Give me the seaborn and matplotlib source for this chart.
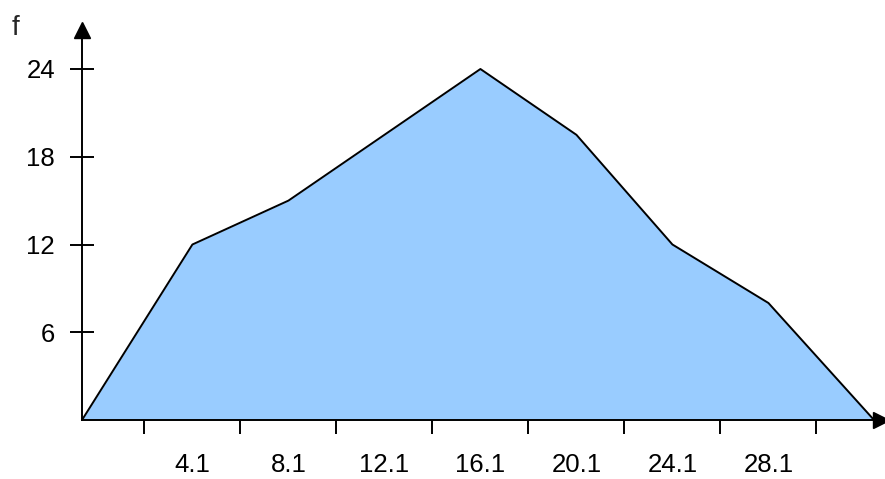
import matplotlib
matplotlib.use("Agg")
import matplotlib.pyplot as plt
import seaborn as sns
import pandas as pd

# ---------------------- DATA ----------------------
poly_x = [-0.5, 4.1, 8.1, 12.1, 16.1, 20.1, 24.1, 28.1, 32.5]
freq = [0, 12, 15, 19.5, 24, 19.5, 12, 8, 0]
class_marks = [4.1, 8.1, 12.1, 16.1, 20.1, 24.1, 28.1]
x_labels = ["4.1", "8.1", "12.1", "16.1", "20.1", "24.1", "28.1"]
boundaries = [2.1, 6.1, 10.1, 14.1, 18.1, 22.1, 26.1, 30.1]
y_ticks = [6, 12, 18, 24]

df = pd.DataFrame({"x": poly_x, "f": freq})

sns.set_style("white")
plt.rcParams["font.family"] = ["Liberation Sans", "DejaVu Sans"]
plt.rcParams["font.size"] = 18.5

fig = plt.figure(figsize=(8.85, 4.79), dpi=100)
ax = fig.add_axes([82 / 885, 59 / 479, 799 / 885, 390 / 479])

# filled frequency polygon
ax.fill_between(df["x"], df["f"], 0, color="#99ccff", linewidth=0)
sns.lineplot(data=df, x="x", y="f", color="black", linewidth=1.4, ax=ax,
             sort=False, clip_on=False)

ax.set_xlim(-0.5, 32.79)
ax.set_ylim(0, 390 / 14.625)

# axes: only left and bottom with arrows
for side in ["top", "right"]:
    ax.spines[side].set_visible(False)
for side in ["left", "bottom"]:
    ax.spines[side].set_linewidth(1.4)
    ax.spines[side].set_color("black")
ax.plot(1, 0, marker=">", color="black", markersize=11, transform=ax.transAxes, clip_on=False)
ax.plot(0, 1, marker="^", color="black", markersize=11, transform=ax.transAxes, clip_on=False)

# ticks
ax.set_yticks(y_ticks)
ax.set_yticklabels([str(v) for v in y_ticks])
ax.tick_params(axis="y", left=True, direction="inout", length=17, width=1.4, pad=11,
               colors="black", labelsize=18.5)

ax.set_xticks(class_marks)
ax.set_xticklabels(x_labels)
ax.set_xticks(boundaries, minor=True)
ax.tick_params(axis="x", which="major", bottom=True, length=0, pad=24, colors="black",
               labelsize=18.5)
ax.tick_params(axis="x", which="minor", bottom=True, direction="out", length=10,
               width=1.4, color="black")

ax.set_xlabel("")
ax.set_ylabel("")
fig.text(12 / 885, 1 - 35 / 479, "f", ha="left", va="baseline", fontsize=20)

fig.savefig("out.png", dpi=100)
